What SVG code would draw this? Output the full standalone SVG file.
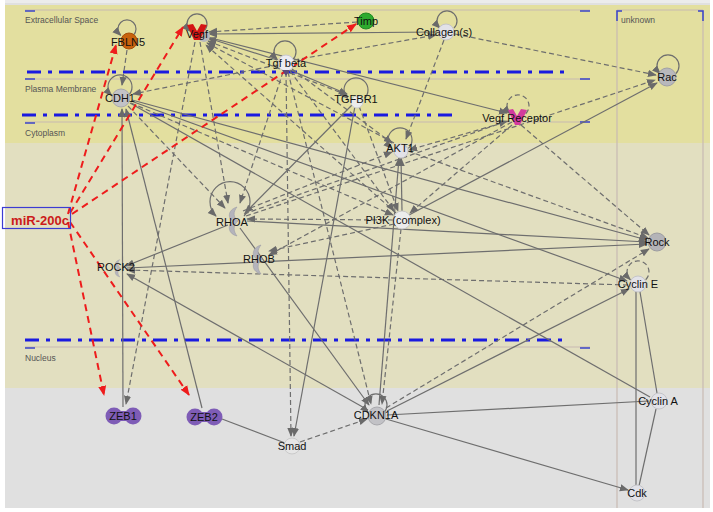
<svg xmlns="http://www.w3.org/2000/svg" xmlns:xlink="http://www.w3.org/1999/xlink" width="713" height="512" viewBox="0 0 713 512">
<defs>
<style>
.s{fill:none;stroke:#6e6e6e;stroke-width:1.2}
.d{fill:none;stroke:#6e6e6e;stroke-width:1.2;stroke-dasharray:5,3}
.r{fill:none;stroke:#ee1c1c;stroke-width:2;stroke-dasharray:7,5}
.a{marker-end:url(#ag)}
.ar{marker-end:url(#ar)}
.sep{stroke:#c8bab2;stroke-width:1.2}
.tick{stroke:#3a44c8;stroke-width:1.5}
.dd{stroke:#1a1ae0;stroke-width:3.2;stroke-dasharray:14,7,4,7;fill:none}
.reg{font-family:"Liberation Sans",Arial,sans-serif;font-size:8.5px;fill:#555}
.lb{font-family:"Liberation Sans",Arial,sans-serif;font-size:11px;fill:#111;text-anchor:middle}
.lc{fill:#e2e2e8;stroke:#c4c4c8;stroke-width:1}
.gc{fill:#c2c2c6;stroke:#a8a8ac;stroke-width:1}
</style>
<marker id="ag" viewBox="0 0 10 10" refX="9" refY="5" markerWidth="9" markerHeight="9" markerUnits="userSpaceOnUse" orient="auto"><path d="M0,1 L10,5 L0,9 z" fill="#6a6a6a"/></marker>
<marker id="ar" viewBox="0 0 10 10" refX="9" refY="5" markerWidth="10" markerHeight="10" markerUnits="userSpaceOnUse" orient="auto"><path d="M0,1 L10,5 L0,9 z" fill="#ee1c1c"/></marker>
<path id="rho" d="M3,-14 C-7,-11 -6,-2 -1,0 C-7,4 -6,13 3,15 C-1,10 -1,4 4,0 C-1,-4 -1,-9 3,-14 Z" fill="#b4b4bc" stroke="#9c9ca4" stroke-width="0.6"/>
</defs>

<!-- background -->
<rect x="0" y="0" width="713" height="512" fill="#ffffff"/>
<rect x="5" y="0" width="705" height="5" fill="#ececec"/>
<line x1="5" y1="4" x2="710" y2="4" stroke="#d4d4d4" stroke-width="1"/>
<rect x="5" y="5" width="705" height="138" fill="#e3df9f"/>
<rect x="5" y="143" width="705" height="245" fill="#e2dfc0"/>
<rect x="5" y="388" width="705" height="120" fill="#e0e0e0"/>
<line x1="617" y1="10" x2="617" y2="508" class="sep"/>
<line x1="703" y1="10" x2="703" y2="508" class="sep"/>
<line x1="617" y1="10" x2="703" y2="10" class="sep"/>

<line x1="25" y1="10" x2="590" y2="10" class="sep"/>
<line x1="25" y1="79" x2="590" y2="79" class="sep"/>
<line x1="25" y1="122" x2="590" y2="122" class="sep"/>
<line x1="25" y1="347" x2="590" y2="347" class="sep"/>
<g class="tick">
<line x1="25" y1="11" x2="35" y2="11"/><line x1="25" y1="79" x2="35" y2="79"/><line x1="25" y1="123" x2="35" y2="123"/><line x1="25" y1="348" x2="35" y2="348"/>
<line x1="580" y1="11" x2="590" y2="11"/><line x1="580" y1="79" x2="590" y2="79"/><line x1="580" y1="122" x2="590" y2="122"/><line x1="580" y1="348" x2="590" y2="348"/>
<path d="M622,11 H617 V21" fill="none"/><path d="M698,11 H703 V21" fill="none"/>
</g>
<line x1="27" y1="72" x2="567" y2="72" class="dd"/>
<line x1="22" y1="115" x2="452" y2="115" class="dd"/>
<line x1="25" y1="340" x2="567" y2="340" class="dd"/>

<text class="reg" x="25" y="23">Extracellular Space</text>
<text class="reg" x="25" y="92">Plasma Membrane</text>
<text class="reg" x="25" y="136">Cytoplasm</text>
<text class="reg" x="25" y="361">Nucleus</text>
<text class="reg" x="621" y="23">unknown</text>

<g id="connectors">
<path class="d a" d="M127,50 L122,85"/>
<path class="d a" d="M357,22 L209,32"/>
<path class="s a" d="M436,32 L209,34"/>
<path class="s a" d="M277,60 L208,38"/>
<path class="d a" d="M347,95 L208,41"/>
<path class="d a" d="M394,143 L207,43"/>
<path class="s a" d="M207,37 L507,113"/>
<path class="d a" d="M396,213 L206,45"/>
<path class="d a" d="M195,42 L126,404"/>
<path class="d a" d="M200,42 L228,203"/>
<path class="d a" d="M294,60 L436,35"/>
<path class="d a" d="M277,65 L133,94"/>
<path class="d a" d="M455,34 L656,75"/>
<path class="d a" d="M444,40 L406,139"/>
<path class="s a" d="M290,70 L347,94"/>
<path class="d a" d="M283,72 L240,203"/>
<path class="d a" d="M286,72 L291,436"/>
<path class="d a" d="M288,72 L371,404"/>
<path class="d a" d="M290,71 L394,211"/>
<path class="d a" d="M292,69 L392,143"/>
<path class="s a" d="M123,407 L122,109"/>
<path class="s a" d="M202,408 L126,109"/>
<path class="d a" d="M128,106 L225,208"/>
<path class="d a" d="M131,103 L393,215"/>
<path class="s a" d="M131,101 L627,281"/>
<path class="s" d="M130,103 L650,397"/>
<path class="s a" d="M132,100 L647,240"/>
<path class="s a" d="M352,105 L245,213"/>
<path class="s a" d="M355,106 L294,436"/>
<path class="d a" d="M359,106 L398,211"/>
<path class="d a" d="M246,216 L655,80"/>
<path class="s a" d="M409,215 L657,83"/>
<path class="d a" d="M521,125 L649,235"/>
<path class="d a" d="M512,125 L410,213"/>
<path class="d a" d="M509,121 L409,150"/>
<path class="d a" d="M244,214 L507,121"/>
<path class="d a" d="M243,211 L392,152"/>
<path class="d a" d="M408,151 L648,238"/>
<path class="s a" d="M402,211 L401,158"/>
<path class="s a" d="M379,405 L399,158"/>
<path class="d a" d="M401,229 L382,404"/>
<path class="d a" d="M393,220 L247,219"/>
<path class="d a" d="M394,224 L269,251"/>
<path class="s a" d="M247,221 L647,242"/>
<path class="s a" d="M228,225 L126,266"/>
<path class="s a" d="M240,228 L369,405"/>
<path class="s a" d="M127,268 L647,244"/>
<path class="d a" d="M628,285 L127,270"/>
<path class="s a" d="M368,410 L127,274"/>
<path class="d a" d="M386,408 L649,249"/>
<path class="s a" d="M387,411 L629,289"/>
<path class="s" d="M387,415 L649,401"/>
<path class="s a" d="M386,419 L628,490"/>
<path class="d a" d="M300,442 L367,419"/>
<path class="s" d="M222,419 L285,443"/>
<path class="s" d="M640,292 L657,393"/>
<path class="s" d="M636,292 L636,485"/>
<path class="s" d="M656,409 L639,486"/>
<path class="d a" d="M512,122 L269,255"/>
<!-- self loops -->
<path class="s a" d="M133.3,35.3 A9,9 0 1 0 120.7,35.3"/>
<path class="s a" d="M204,31 A10,10 0 1 0 190,31"/>
<path class="s a" d="M454,28 A10,10 0 1 0 440,28"/>
<path class="s a" d="M292.7,59.7 A11,11 0 1 0 277.3,59.7"/>
<path class="s a" d="M128.4,95.4 A12,12 0 1 0 111.6,95.4"/>
<path class="s a" d="M364.4,98.4 A12,12 0 1 0 347.6,98.4"/>
<path class="d a" d="M525.7,113.7 A11,11 0 1 0 510.3,113.7"/>
<path class="s a" d="M675.7,73.7 A11,11 0 1 0 660.3,73.7"/>
<path class="s a" d="M408.4,148.4 A12,12 0 1 0 391.6,148.4"/>
<path class="s a" d="M244,216 A20,20 0 1 0 216,216"/>
<path class="s a" d="M383.7,412.7 A11,11 0 1 0 368.3,412.7"/>
<path class="d a" d="M645.7,279.7 A11,11 0 1 0 630.3,279.7"/>
<!-- miR-200c -->
<path class="r ar" d="M68,214 L116,45"/>
<path class="r ar" d="M70,213 L183,27"/>
<path class="r ar" d="M72,214 L356,24"/>
<path class="r ar" d="M68,222 L104,395"/>
<path class="r ar" d="M70,222 L189,395"/>
</g>

<g id="FBLN5"><circle cx="129" cy="41" r="8" fill="#c8620e" stroke="#a84f08"/><text class="lb" x="128" y="46">FBLN5</text></g>
<g id="Vegf"><circle cx="204" cy="36" r="6" fill="#b8b8bc"/><path d="M187,25 L193,24 L197,31 L201,24 L207,25 L200,40 L194,40 Z" fill="#d41414"/><text class="lb" x="197" y="38">Vegf</text></g>
<g id="Timp"><circle cx="366" cy="21" r="8" fill="#2eaa2e" stroke="#238a23"/><text class="lb" x="366" y="25">Timp</text></g>
<g id="Collagen"><circle cx="446" cy="32" r="8" class="lc"/><text class="lb" x="444" y="36">Collagen(s)</text></g>
<g id="TgfBeta"><circle cx="286" cy="63" r="8" fill="#ececf2" stroke="#c8c8d0"/><path d="M282,70 L290,70 L286,76 Z" fill="#5a4a7a"/><text class="lb" x="286" y="67">Tgf beta</text></g>
<g id="CDH1"><circle cx="121" cy="98" r="9" class="gc"/><text class="lb" x="120" y="102">CDH1</text></g>
<g id="TGFBR1"><circle cx="357" cy="102" r="6" fill="#ececec" stroke="#cfcfcf"/><text class="lb" x="356" y="103">TGFBR1</text></g>
<g id="VegfReceptor"><path d="M508,110 L513,109 L517,116 L521,109 L527,110 L520,125 L515,125 Z" fill="#d23c9e"/><text class="lb" x="517" y="122">Vegf Receptor</text></g>
<g id="Rac"><circle cx="667" cy="77" r="9" fill="#b8b8bc" stroke="#a0a0a6"/><text class="lb" x="667" y="81">Rac</text></g>
<g id="AKT1"><circle cx="401" cy="151" r="7" class="lc"/><text class="lb" x="400" y="152">AKT1</text></g>
<g id="RHOA"><use xlink:href="#rho" x="234" y="221"/><text class="lb" x="232" y="226">RHOA</text></g>
<g id="PI3K"><circle cx="402" cy="220" r="9" fill="#ececec" stroke="#c8c8c8"/><text class="lb" x="403" y="224">PI3K (complex)</text></g>
<g id="RHOB"><use xlink:href="#rho" x="258" y="259"/><text class="lb" x="259" y="263">RHOB</text></g>
<g id="ROCK2"><use xlink:href="#rho" transform="translate(118,268) scale(0.6)"/><text class="lb" x="116" y="271">ROCK2</text></g>
<g id="Rock"><circle cx="657" cy="242" r="9" fill="#b4b4b8" stroke="#9c9ca0"/><text class="lb" x="657" y="246">Rock</text></g>
<g id="CyclinE"><circle cx="638" cy="284" r="8" class="lc"/><text class="lb" x="638" y="288">Cyclin E</text></g>
<g id="CyclinA"><circle cx="659" cy="401" r="8" class="lc"/><text class="lb" x="658" y="405">Cyclin A</text></g>
<g id="Cdk"><circle cx="637" cy="493" r="8" class="lc"/><text class="lb" x="637" y="497">Cdk</text></g>
<g id="CDKN1A"><circle cx="377" cy="416" r="9" class="gc"/><text class="lb" x="376" y="419">CDKN1A</text></g>
<g id="Smad"><circle cx="292" cy="446" r="8" fill="#e6e6e6" stroke="#cacaca"/><text class="lb" x="292" y="450">Smad</text></g>
<g id="ZEB1"><circle cx="114" cy="416" r="8.5" fill="#7e5cb6"/><circle cx="133" cy="416" r="8.5" fill="#7e5cb6"/><rect x="114" y="411" width="19" height="10" fill="#7e5cb6"/><text class="lb" x="123" y="420">ZEB1</text></g>
<g id="ZEB2"><circle cx="195" cy="417" r="8.5" fill="#7e5cb6"/><circle cx="214" cy="417" r="8.5" fill="#7e5cb6"/><rect x="195" y="412" width="19" height="10" fill="#7e5cb6"/><text class="lb" x="204" y="421">ZEB2</text></g>
<g id="miR-200c"><rect x="2.5" y="207.5" width="68" height="21" fill="none" stroke="#3c3cd2" stroke-width="1.2"/><text x="40" y="225" font-family="Liberation Sans, Arial, sans-serif" font-size="13" font-weight="bold" fill="#cc1a1a" text-anchor="middle">miR-200c</text></g>
</svg>
